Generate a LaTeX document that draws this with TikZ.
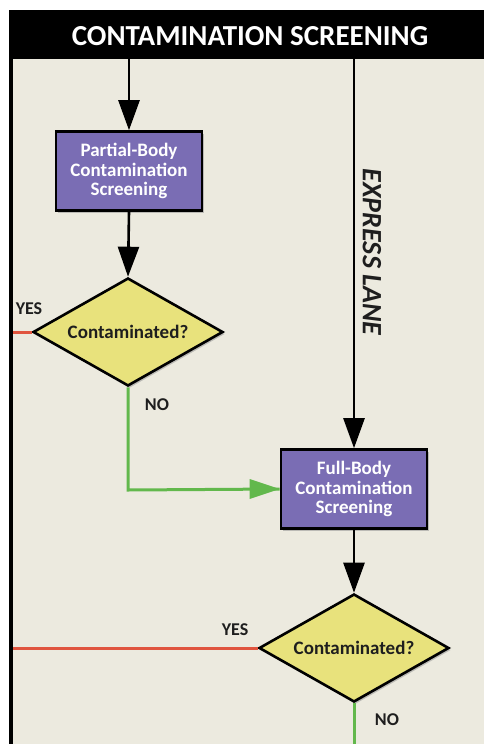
\documentclass[tikz,border=0pt]{standalone}
\usepackage{fontspec}
\setmainfont{Carlito}
\usetikzlibrary{shapes.geometric,arrows.meta,shadows}
\definecolor{bgc}{HTML}{ECEADF}
\definecolor{boxc}{HTML}{7A6DB4}
\definecolor{dmc}{HTML}{E8E27C}
\definecolor{redc}{HTML}{E0553F}
\definecolor{grnc}{HTML}{62B84C}
\definecolor{txtc}{HTML}{1E1E1E}
\tikzset{
  procbox/.style={draw=black, line width=2.6pt, fill=boxc, minimum width=146pt, minimum height=79pt,
    align=center, text=white, font=\bfseries\fontsize{19}{19.5}\selectfont,
    drop shadow={shadow xshift=2pt, shadow yshift=-2pt, fill=black!45, opacity=0.5}},
  decide/.style={draw=black, line width=2.6pt, fill=dmc, diamond, minimum width=190pt, minimum height=108pt,
    inner sep=0pt,
    label={[text=txtc, font=\bfseries\fontsize{19}{20}\selectfont]center:#1},
    drop shadow={shadow xshift=2pt, shadow yshift=-2pt, fill=black!45, opacity=0.5}},
  flow/.style={line width=2.6pt, black, -{Triangle[length=30pt,width=21pt]}},
  yesline/.style={line width=3pt, redc},
  noline/.style={line width=3pt, grnc},
  lab/.style={font=\bfseries\fontsize{18}{20}\selectfont, text=txtc}
}
\begin{document}
\begin{tikzpicture}[x=1pt,y=-1pt]
\fill[white] (0,0) rectangle (484,744);
\useasboundingbox (0,0) rectangle (484,744);
\fill[bgc] (9,59) rectangle (484,744);
\fill[black] (9,10) rectangle (484,59);
\fill[black] (9,10) rectangle (13,744);
\node[text=white, font=\bfseries\fontsize{29}{32}\selectfont] (title) at (250,36) {CONTAMINATION SCREENING};

\coordinate (s1) at (129,59);
\coordinate (s2) at (354,59);
\node[procbox] (pb) at (129,171) {Partial-Body\\Contamination\\Screening};
\node[decide=Contaminated?] (d1) at (128,332) {};
\node[procbox] (fb) at (354,489) {Full-Body\\Contamination\\Screening};
\node[decide=Contaminated?] (d2) at (354,648) {};
\coordinate (l1) at (13,332);
\coordinate (l2) at (13,648);
\coordinate (bend) at (128,490);
\coordinate (e2) at (354,744);

\draw[flow] (s1) -- (pb.north);
\draw[flow] (pb.south) -- (d1.north);
\draw[flow] (s2) -- (fb.north);
\draw[flow] (fb.south) -- (d2.north);
\draw[yesline] (d1.west) -- (l1);
\draw[yesline] (d2.west) -- (l2);
\draw[noline] (d1.south) -- (bend) -- (fb.west);
\draw[noline] (d2.south) -- (e2);
\fill[grnc] (fb.west) -- ++(-30,-10) -- ++(0,20) -- cycle;

\node[lab] (y1) at (29,309) {YES};
\node[lab] (n1) at (157,405) {NO};
\node[lab] (y2) at (235,630) {YES};
\node[lab] (n2) at (387,720) {NO};
\node[rotate=-90, font=\bfseries\itshape\fontsize{28}{30}\selectfont, text=txtc] (ex) at (372,252) {EXPRESS LANE};
\end{tikzpicture}
\end{document}
